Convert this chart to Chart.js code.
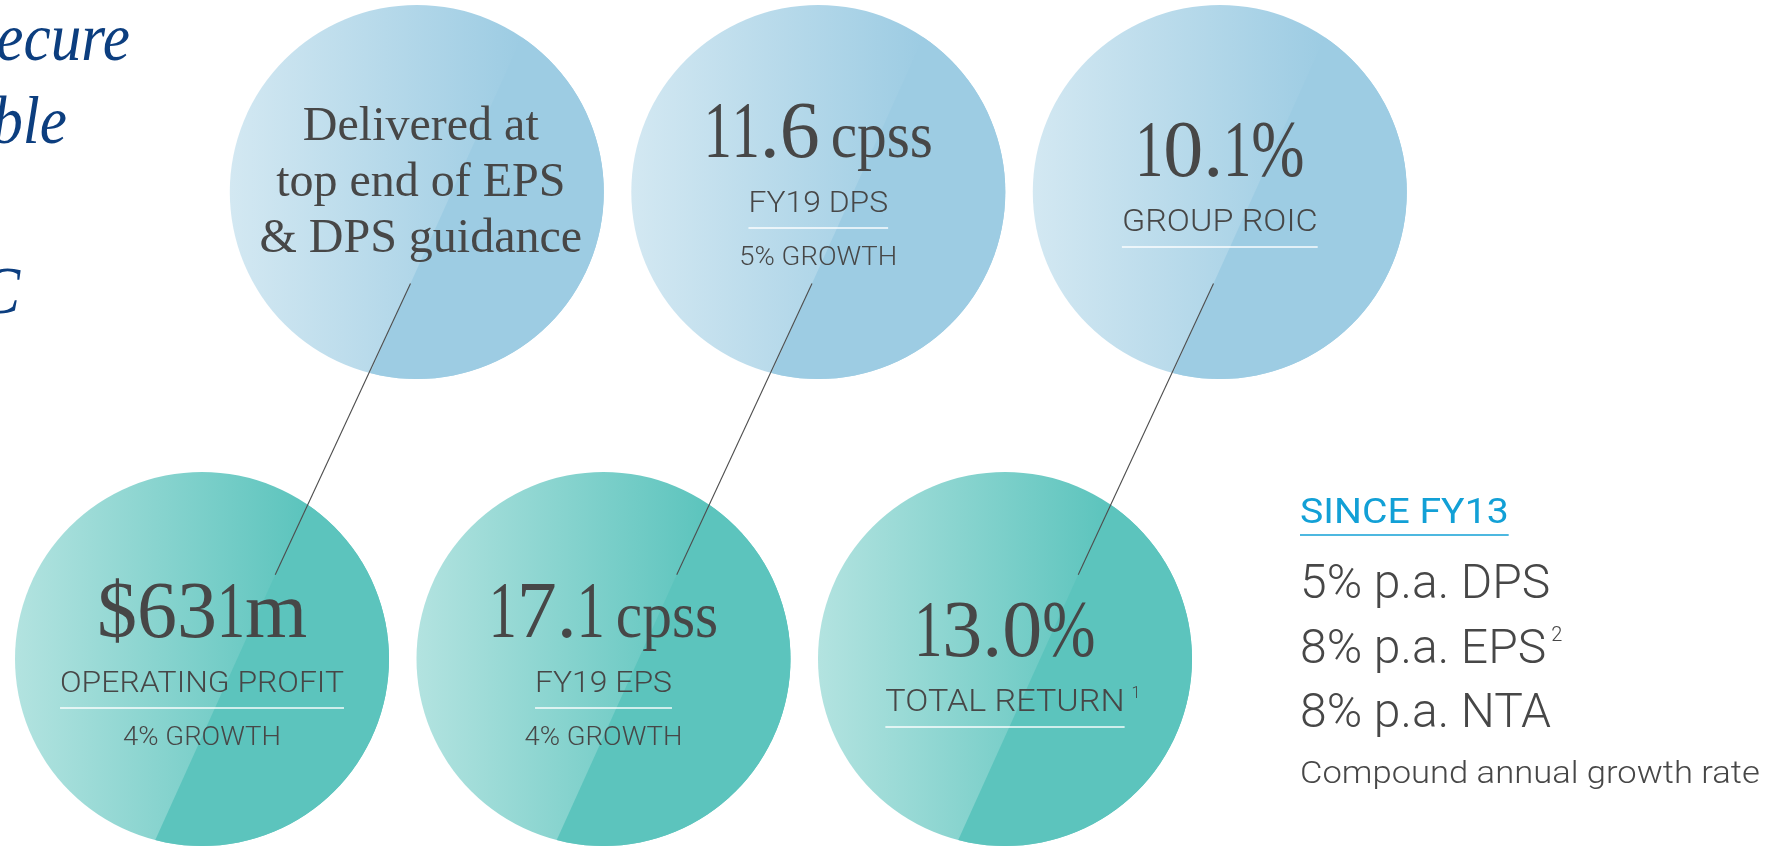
<!DOCTYPE html>
<html>
<head>
<meta charset="utf-8">
<title>FY19 highlights</title>
<script src="https://cdn.jsdelivr.net/npm/chart.js@4.4.0/dist/chart.umd.min.js"></script>
<style>
  html, body { margin: 0; padding: 0; background: #fff; }
  canvas { display: block; }
</style>
</head>
<body>
<canvas id="highlights" width="1792" height="850"></canvas>
<script>
// Circle slots: the top row sits about half a column right of the bottom row
const slotCol = [0.535, 1.535, 2.535, 0, 1, 2];
const slotRow = [0, 0, 0, 1, 1, 1];

// What each circle says
const headlines = ['', '11.6', '10.1%', '$631m', '17.1', '13.0%'];
const units = ['', 'cpss', '', '', 'cpss', ''];
const captions = ['', 'FY19 DPS', 'GROUP ROIC', 'OPERATING PROFIT', 'FY19 EPS', 'TOTAL RETURN'];
const captionNotes = ['', '', '', '', '', '1'];
const growthLines = ['', '5% GROWTH', '', '4% GROWTH', '4% GROWTH', ''];
const guidanceLines = ['Delivered at', 'top end of EPS', '& DPS guidance'];

// Each top circle is tied to the circle below it
const links = [[0, 3], [1, 4], [2, 5]];

// Side panel
const sinceTitle = 'SINCE FY13';
const cagrLines = ['5% p.a. DPS', '8% p.a. EPS', '8% p.a. NTA'];
const cagrNotes = ['', '2', ''];
const cagrCaption = 'Compound annual growth rate';

// Heading running in from the left edge
const headingBits = ['ecure', 'ble', 'C'];

const RADIUS = 187;
const SERIF = '"Liberation Serif", "DejaVu Serif", serif';
const SANS = 'Roboto, "Open Sans", sans-serif';
const INK = '#474747';
const NAVY = '#0c3e7f';
const CYAN = '#12a0d6';

const palette = [
  { light: '#d3e8f2', flat: '#9dcce3' },
  { light: '#b3e3e0', flat: '#5cc4bd' }
];

// the glossy facet edge and the connectors share one slanted direction
const DX = -0.412, DY = 0.911;   // along the edge, pointing down-left
const NX = 0.911, NY = 0.412;    // across it, pointing right
const FACET_OFFSET = 32;

// display figures: the serif's "1" and "%" are set narrower than the other glyphs
const glyphSqueeze = { '1': 0.7, '%': 0.8 };

function circleFill(context) {
  const chart = context.chart;
  const i = context.dataIndex;
  if (i === undefined) return palette[1].flat;
  const p = palette[slotRow[i]];
  const xs = chart.scales.x;
  const cx = xs ? xs.getPixelForValue(slotCol[i]) : NaN;
  if (!isFinite(cx)) return p.flat;
  const g = chart.ctx.createLinearGradient(cx - RADIUS, 0, cx + RADIUS * 0.55, 0);
  g.addColorStop(0, p.light);
  g.addColorStop(1, p.flat);
  return g;
}

function drawText(ctx, str, x, y, font, color, align, squeeze) {
  const sx = squeeze || 1;
  ctx.save();
  ctx.font = font;
  ctx.fillStyle = color;
  ctx.textAlign = 'left';
  ctx.textBaseline = 'alphabetic';
  const w = ctx.measureText(str).width * sx;
  const left = align === 'center' ? x - w / 2 : align === 'right' ? x - w : x;
  ctx.translate(left, y);
  ctx.scale(sx, 1);
  ctx.fillText(str, 0, 0);
  ctx.restore();
  return w;
}

function measure(ctx, str, font, squeeze) {
  ctx.save();
  ctx.font = font;
  const w = ctx.measureText(str).width * (squeeze || 1);
  ctx.restore();
  return w;
}

// figures are laid out glyph by glyph so each one can take its own width
function figureWidth(ctx, str, font) {
  let w = 0;
  for (const ch of str) w += measure(ctx, ch, font, glyphSqueeze[ch] || 1);
  return w;
}

function drawFigure(ctx, str, x, y, font, color) {
  let cur = x;
  for (const ch of str) cur += drawText(ctx, ch, cur, y, font, color, 'left', glyphSqueeze[ch] || 1);
  return cur - x;
}

function rule(ctx, x1, x2, y, color, width) {
  ctx.save();
  ctx.strokeStyle = color;
  ctx.lineWidth = width;
  ctx.beginPath();
  ctx.moveTo(x1, y);
  ctx.lineTo(x2, y);
  ctx.stroke();
  ctx.restore();
}

const highlightLayer = {
  id: 'highlightLayer',
  afterDatasetsDraw(chart) {
    const ctx = chart.ctx;
    const pts = chart.getDatasetMeta(0).data.map(el => ({ x: el.x, y: el.y, r: el.options.radius }));

    // flat facet on the right-hand side of every circle
    pts.forEach((p, i) => {
      const ox = p.x + FACET_OFFSET * NX, oy = p.y + FACET_OFFSET * NY;
      ctx.save();
      ctx.beginPath();
      ctx.arc(p.x, p.y, p.r, 0, Math.PI * 2);
      ctx.clip();
      ctx.beginPath();
      ctx.moveTo(ox - 500 * DX, oy - 500 * DY);
      ctx.lineTo(ox + 500 * DX, oy + 500 * DY);
      ctx.lineTo(ox + 500 * DX + 500 * NX, oy + 500 * DY + 500 * NY);
      ctx.lineTo(ox - 500 * DX + 500 * NX, oy - 500 * DY + 500 * NY);
      ctx.closePath();
      ctx.fillStyle = palette[slotRow[i]].flat;
      ctx.fill();
      ctx.restore();
    });

    // connectors between the rows
    links.forEach(([a, b]) => {
      const top = pts[a], bot = pts[b];
      ctx.save();
      ctx.strokeStyle = '#4d4d4d';
      ctx.lineWidth = 1.1;
      ctx.beginPath();
      ctx.moveTo(top.x + FACET_OFFSET * NX + 86 * DX, top.y + FACET_OFFSET * NY + 86 * DY);
      ctx.lineTo(bot.x + FACET_OFFSET * NX - 107 * DX, bot.y + FACET_OFFSET * NY - 107 * DY);
      ctx.stroke();
      ctx.restore();
    });

    // circle contents
    const numFont = '80px ' + SERIF;
    const unitFont = '66px ' + SERIF;
    const growFont = '300 25px ' + SANS;
    const capStretch = 1.1;
    pts.forEach((p, i) => {
      if (!headlines[i]) {
        guidanceLines.forEach((line, k) => {
          drawText(ctx, line, p.x + 4, p.y - 52 + k * 56, '48px ' + SERIF, INK, 'center', 1);
        });
        return;
      }
      const shift = (slotRow[i] === 0 ? -13 : 0) + (growthLines[i] ? 0 : 19);
      const base = p.y - 22 + shift;
      const unitSq = 0.9;
      const wNum = figureWidth(ctx, headlines[i], numFont);
      const wUnit = units[i] ? measure(ctx, units[i], unitFont, unitSq) : 0;
      const gap = units[i] ? 11 : 0;
      const x0 = p.x - (wNum + gap + wUnit) / 2;
      drawFigure(ctx, headlines[i], x0, base, numFont, INK);
      if (units[i]) drawText(ctx, units[i], x0 + wNum + gap, base, unitFont, INK, 'left', unitSq);

      const capFont = '300 ' + (growthLines[i] ? 29 : 31) + 'px ' + SANS;
      const capBase = base + 55;
      const wCap = drawText(ctx, captions[i], p.x, capBase, capFont, INK, 'center', capStretch);
      if (captionNotes[i]) {
        drawText(ctx, captionNotes[i], p.x + wCap / 2 + 7, capBase - 13, '300 16px ' + SANS, INK, 'left', 1);
      }
      const lineY = capBase + 16;
      rule(ctx, p.x - wCap / 2, p.x + wCap / 2, lineY, 'rgba(255,255,255,0.95)', 1.5);
      if (growthLines[i]) {
        drawText(ctx, growthLines[i], p.x, lineY + 37, growFont, INK, 'center', capStretch);
      }
    });

    // heading fragments at the left edge
    const headFont = 'italic 68px ' + SERIF;
    drawText(ctx, headingBits[0], 130, 60, headFont, NAVY, 'right', 0.9);
    drawText(ctx, headingBits[1], 67, 143, headFont, NAVY, 'right', 0.9);
    drawText(ctx, headingBits[2], 20, 313, headFont, NAVY, 'right', 0.9);

    // side panel
    const px = 1300;
    const wTitle = drawText(ctx, sinceTitle, px, 523, '35px ' + SANS, CYAN, 'left', 1.12);
    rule(ctx, px, px + wTitle, 535, CYAN, 1.5);
    cagrLines.forEach((line, k) => {
      const y = 598 + k * 64.5;
      const w = drawText(ctx, line, px, y, '300 48px ' + SANS, INK, 'left', 1);
      if (cagrNotes[k]) drawText(ctx, cagrNotes[k], px + w + 5, y - 22, '300 20px ' + SANS, INK, 'left', 1);
    });
    drawText(ctx, cagrCaption, px, 783, '300 32px ' + SANS, INK, 'left', 1.08);
  }
};

new Chart(document.getElementById('highlights'), {
  type: 'bubble',
  data: {
    datasets: [{
      label: 'FY19 highlights',
      data: slotCol.map((c, i) => ({ x: c, y: slotRow[i] })),
      radius: RADIUS,
      hoverRadius: 0,
      borderWidth: 0,
      clip: false,
      backgroundColor: circleFill
    }]
  },
  options: {
    responsive: false,
    animation: false,
    events: [],
    layout: { padding: 0, autoPadding: false },
    scales: {
      x: { type: 'linear', min: -0.5031, max: 3.9602, bounds: 'data', display: false },
      y: { type: 'linear', min: -0.4111, max: 1.4090, reverse: true, bounds: 'data', display: false }
    },
    plugins: {
      legend: { display: false },
      tooltip: { enabled: false }
    }
  },
  plugins: [highlightLayer]
});
</script>
</body>
</html>
